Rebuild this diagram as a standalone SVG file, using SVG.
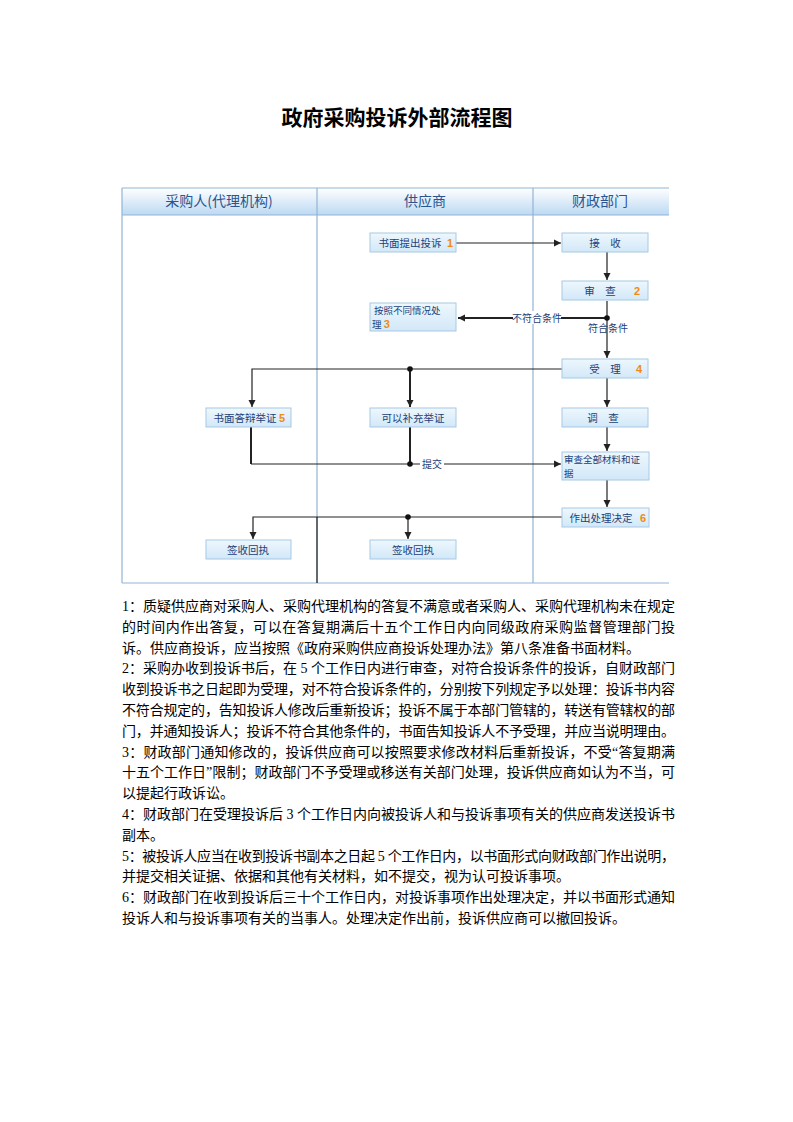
<svg xmlns="http://www.w3.org/2000/svg" width="793" height="1122" viewBox="0 0 793 1122">
<defs>
<linearGradient id="hdr" x1="0" y1="0" x2="0" y2="1">
<stop offset="0" stop-color="#ffffff"/>
<stop offset="1" stop-color="#bcd9f2"/>
</linearGradient>
<linearGradient id="box" x1="0" y1="0" x2="0" y2="1">
<stop offset="0" stop-color="#eef7fd"/>
<stop offset="1" stop-color="#d2e8f8"/>
</linearGradient>
<marker id="ah" markerUnits="userSpaceOnUse" markerWidth="8" markerHeight="8" refX="7" refY="4" orient="auto">
<path d="M0,0.5 L7,4 L0,7.5 Z" fill="#222"/>
</marker>
<style>
.title{font-family:"Noto Sans CJK SC",sans-serif;font-size:21px;font-weight:bold;fill:#000}
.hd{font-family:"Noto Sans CJK SC",sans-serif;font-size:14px;fill:#2a5590}
.bx{fill:url(#box);stroke:#a8c9e4;stroke-width:1}
.bt{font-family:"Noto Sans CJK SC",sans-serif;font-size:10.5px;fill:#1c3f78}
.bt2{font-family:"Noto Sans CJK SC",sans-serif;font-size:9.5px;fill:#1c3f78}
.num{font-family:"Liberation Sans",sans-serif;font-size:11px;font-weight:bold;fill:#f08a10}
.ln{fill:none;stroke:#222;stroke-width:1.2}
.lnb{fill:none;stroke:#222;stroke-width:2}
.lbl{font-family:"Noto Sans CJK SC",sans-serif;font-size:10px;fill:#1c3f78}
.frame{stroke:#93b4d4;stroke-width:1.2;fill:none}
.body{font-family:"Liberation Serif","Noto Sans CJK SC",serif;font-size:14px;fill:#000}
</style>
</defs>
<rect width="793" height="1122" fill="#fff"/>
<text class="title" x="397" y="125" text-anchor="middle">政府采购投诉外部流程图</text>

<g id="lanes">
<rect x="122" y="188" width="547" height="27" fill="url(#hdr)"/>
<line class="frame" x1="122" y1="188" x2="669" y2="188"/>
<line class="frame" x1="122" y1="215" x2="669" y2="215" stroke="#c8dcef"/>
<line class="frame" x1="122" y1="188" x2="122" y2="583"/>
<line class="frame" x1="317" y1="188" x2="317" y2="583"/>
<line class="frame" x1="533" y1="188" x2="533" y2="583"/>
<line class="frame" x1="122" y1="583" x2="669" y2="583"/>
<text class="hd" x="219" y="206" text-anchor="middle">采购人(代理机构)</text>
<text class="hd" x="425" y="206" text-anchor="middle">供应商</text>
<text class="hd" x="600" y="206" text-anchor="middle">财政部门</text>
</g>

<g id="connectors">
<path class="ln" d="M456,243 H561" marker-end="url(#ah)"/>
<path class="ln" d="M607,252 V280" marker-end="url(#ah)"/>
<path class="ln" d="M607,301 V358" marker-end="url(#ah)"/>
<path class="lnb" d="M607,318 H458" marker-end="url(#ah)"/>
<circle cx="607" cy="318" r="2.8" fill="#111"/>
<path class="ln" d="M562,369 H252 V407" marker-end="url(#ah)"/>
<path class="lnb" d="M410,369 V407" marker-end="url(#ah)"/>
<circle cx="410" cy="369" r="2.8" fill="#111"/>
<path class="ln" d="M607,378 V407" marker-end="url(#ah)"/>
<path class="lnb" d="M251,427 V464"/>
<path class="ln" d="M251,464 H561" marker-end="url(#ah)"/>
<path class="lnb" d="M410,427 V464"/>
<circle cx="410" cy="464" r="2.8" fill="#111"/>
<path class="ln" d="M607,427 V451" marker-end="url(#ah)"/>
<path class="ln" d="M607,480 V507" marker-end="url(#ah)"/>
<path class="ln" d="M562,517 H253 V539" marker-end="url(#ah)"/>
<path class="ln" d="M408,517 V539" marker-end="url(#ah)"/>
<circle cx="408" cy="517" r="2.8" fill="#111"/>
<line x1="317" y1="517" x2="317" y2="583" stroke="#222" stroke-width="1.2"/>
<rect x="513" y="311" width="48" height="13" fill="#fff"/>
<text class="lbl" x="537" y="322" text-anchor="middle">不符合条件</text>
<text class="lbl" x="608" y="332" text-anchor="middle">符合条件</text>
<rect x="420" y="458" width="24" height="13" fill="#fff"/>
<text class="lbl" x="432" y="468" text-anchor="middle">提交</text>
</g>

<g id="n1"><rect class="bx" x="370" y="233" width="86" height="19"/><text class="bt" x="410" y="246.5" text-anchor="middle">书面提出投诉</text><text class="num" x="447" y="246.5">1</text></g>
<g id="n2"><rect class="bx" x="562" y="233" width="86" height="19"/><text class="bt" x="605" y="246.5" text-anchor="middle">接　收</text></g>
<g id="n3"><rect class="bx" x="562" y="281" width="86" height="19"/><text class="bt" x="600" y="294.5" text-anchor="middle">审　查</text><text class="num" x="634" y="294.5" fill="#f0a050">2</text></g>
<g id="n4"><rect class="bx" x="370" y="303" width="86" height="28"/><text class="bt2"><tspan x="374" y="313.5">按照不同情况处</tspan><tspan x="372" y="327.5">理 </tspan><tspan class="num" fill="#f0a050">3</tspan></text></g>
<g id="n5"><rect class="bx" x="562" y="359" width="86" height="19"/><text class="bt" x="605" y="372.5" text-anchor="middle">受　理</text><text class="num" x="636" y="372.5">4</text></g>
<g id="n6"><rect class="bx" x="206" y="408" width="85" height="19"/><text class="bt" x="245" y="421.5" text-anchor="middle">书面答辩举证</text><text class="num" x="279" y="421.5">5</text></g>
<g id="n7"><rect class="bx" x="370" y="408" width="86" height="19"/><text class="bt" x="413" y="421.5" text-anchor="middle">可以补充举证</text></g>
<g id="n8"><rect class="bx" x="562" y="408" width="86" height="19"/><text class="bt" x="603" y="421.5" text-anchor="middle">调　查</text></g>
<g id="n9"><rect class="bx" x="562" y="452" width="87" height="28"/><text class="bt2"><tspan x="564" y="462.5">审查全部材料和证</tspan><tspan x="564" y="476.5">据</tspan></text></g>
<g id="n10"><rect class="bx" x="562" y="508" width="87" height="19"/><text class="bt" x="601" y="521.5" text-anchor="middle">作出处理决定</text><text class="num" x="640" y="521.5">6</text></g>
<g id="n11"><rect class="bx" x="206" y="540" width="85" height="19"/><text class="bt" x="248" y="553.5" text-anchor="middle">签收回执</text></g>
<g id="n12"><rect class="bx" x="370" y="540" width="86" height="19"/><text class="bt" x="413" y="553.5" text-anchor="middle">签收回执</text></g>

<g id="notes">
<text class="body" x="122" y="611" textLength="553" lengthAdjust="spacing">1：质疑供应商对采购人、采购代理机构的答复不满意或者采购人、采购代理机构未在规定</text>
<text class="body" x="122" y="632" textLength="553" lengthAdjust="spacing">的时间内作出答复，可以在答复期满后十五个工作日内向同级政府采购监督管理部门投</text>
<text class="body" x="122" y="653">诉。供应商投诉，应当按照《政府采购供应商投诉处理办法》第八条准备书面材料。</text>
<text class="body" x="122" y="673" textLength="553" lengthAdjust="spacing">2：采购办收到投诉书后，在 5 个工作日内进行审查，对符合投诉条件的投诉，自财政部门</text>
<text class="body" x="122" y="694" textLength="553" lengthAdjust="spacing">收到投诉书之日起即为受理，对不符合投诉条件的，分别按下列规定予以处理：投诉书内容</text>
<text class="body" x="122" y="715" textLength="553" lengthAdjust="spacing">不符合规定的，告知投诉人修改后重新投诉；投诉不属于本部门管辖的，转送有管辖权的部</text>
<text class="body" x="122" y="736" textLength="553" lengthAdjust="spacing">门，并通知投诉人；投诉不符合其他条件的，书面告知投诉人不予受理，并应当说明理由。</text>
<text class="body" x="122" y="757" textLength="553" lengthAdjust="spacing">3：财政部门通知修改的，投诉供应商可以按照要求修改材料后重新投诉，不受“答复期满</text>
<text class="body" x="122" y="777" textLength="553" lengthAdjust="spacing">十五个工作日”限制；财政部门不予受理或移送有关部门处理，投诉供应商如认为不当，可</text>
<text class="body" x="122" y="798">以提起行政诉讼。</text>
<text class="body" x="122" y="819" textLength="553" lengthAdjust="spacing">4：财政部门在受理投诉后 3 个工作日内向被投诉人和与投诉事项有关的供应商发送投诉书</text>
<text class="body" x="122" y="840">副本。</text>
<text class="body" x="122" y="861" textLength="553" lengthAdjust="spacing">5：被投诉人应当在收到投诉书副本之日起 5 个工作日内，以书面形式向财政部门作出说明，</text>
<text class="body" x="122" y="881">并提交相关证据、依据和其他有关材料，如不提交，视为认可投诉事项。</text>
<text class="body" x="122" y="902" textLength="553" lengthAdjust="spacing">6：财政部门在收到投诉后三十个工作日内，对投诉事项作出处理决定，并以书面形式通知</text>
<text class="body" x="122" y="923">投诉人和与投诉事项有关的当事人。处理决定作出前，投诉供应商可以撤回投诉。</text>
</g>
</svg>
